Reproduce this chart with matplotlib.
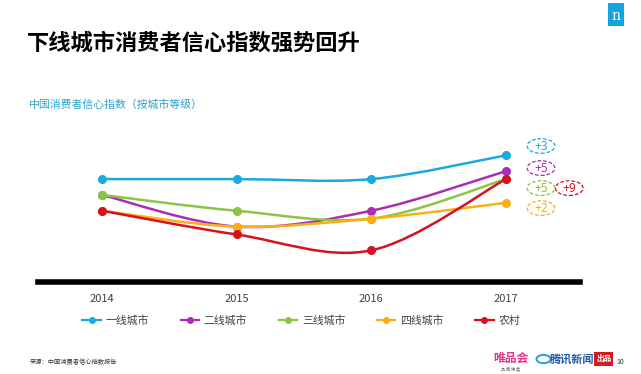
import matplotlib
matplotlib.use("Agg")
import matplotlib.pyplot as plt
from matplotlib.path import Path
from matplotlib.patches import PathPatch, Rectangle, Circle, Ellipse

plt.rcParams['font.family'] = ['Noto Sans CJK SC', 'DejaVu Sans']

years = [2014, 2015, 2016, 2017]
series_names = ["一线城市", "二线城市", "三线城市", "四线城市", "农村"]
tier1 = [110, 110, 110, 113]
tier2 = [108, 104, 106, 111]
tier3 = [108, 106, 105, 110]
tier4 = [106, 104, 105, 107]
rural = [106, 103, 101, 110]
colors = ["#1BA9E1", "#AA2DB4", "#8DC444", "#FBAF17", "#D7111F"]

# where the "+n" bubbles sit (x, y in data units)
bubble_pos = [(2017.26, 114.18), (2017.26, 111.39), (2017.26, 108.86),
              (2017.26, 106.33), (2017.47, 108.86)]


def smooth_path(xs, ys):
    # catmull-rom style bezier through the points, like office "smoothed line"
    pts = list(zip(xs, ys))
    verts = [pts[0]]
    codes = [Path.MOVETO]
    n = len(pts)
    for i in range(n - 1):
        p0 = pts[i - 1] if i > 0 else pts[i]
        p1 = pts[i]
        p2 = pts[i + 1]
        p3 = pts[i + 2] if i + 2 < n else pts[i + 1]
        c1 = (p1[0] + (p2[0] - p0[0]) / 6, p1[1] + (p2[1] - p0[1]) / 6)
        c2 = (p2[0] - (p3[0] - p1[0]) / 6, p2[1] - (p3[1] - p1[1]) / 6)
        verts += [c1, c2, p2]
        codes += [Path.CURVE4] * 3
    return Path(verts, codes)


fig = plt.figure(figsize=(6.41, 3.74), dpi=100)
ax = fig.add_axes([0.0593, 0.246, 0.8456, 0.381])

all_series = [tier1, tier2, tier3, tier4, rural]
for name, vals, c in zip(series_names, all_series, colors):
    ax.add_patch(PathPatch(smooth_path(years, vals), fc="none", ec=c, lw=1.8, zorder=2))
    ax.plot(years, vals, ls="none", marker="o", ms=5.5, color=c, zorder=3)
    # legend handle
    ax.plot([], [], color=c, lw=1.6, marker="o", ms=4, label=name)

for vals, c, (bx, by) in zip(all_series, colors, bubble_pos):
    d = vals[-1] - vals[-2]
    ax.add_patch(Ellipse((bx, by), 0.205, 1.85, fc="white", ec=c, ls=(0, (3, 1.5)),
                         lw=0.9, clip_on=False, zorder=4))
    ax.text(bx, by - 0.05, "+%d" % d, color=c, fontsize=8.5, weight="semibold",
            ha="center", va="center", family="Noto Sans", clip_on=False, zorder=5)

ax.set_xlim(2013.525, 2017.55)
ax.set_ylim(97, 115)
for s in ["top", "right", "left"]:
    ax.spines[s].set_visible(False)
ax.spines["bottom"].set_linewidth(4)
ax.spines["bottom"].set_color("black")
ax.set_yticks([])
ax.set_xticks(years)
ax.set_xticklabels([str(y) for y in years], fontsize=8, color="#404040")
ax.tick_params(axis="x", length=0, pad=9)

fig.legend(loc="center", bbox_to_anchor=(0.47, 0.142), ncol=5, frameon=False,
           fontsize=7.8, labelcolor="#404040", handlelength=1.7, handletextpad=0.45,
           columnspacing=2.9)

fig.text(0.042, 0.885, "下线城市消费者信心指数强势回升", fontsize=16, weight="bold",
         color="black", va="center")
fig.text(0.045, 0.72, "中国消费者信心指数（按城市等级）", fontsize=7.8,
         color="#2AA3CB", va="center")
fig.text(0.047, 0.032, "来源：中国消费者信心指数报告", fontsize=4.5,
         color="#333333", va="center")

# nielsen mark
fig.patches.append(Rectangle((0.949, 0.93), 0.025, 0.062, transform=fig.transFigure,
                             fc="#12A5E0", ec="none"))
fig.text(0.9615, 0.958, "n", color="white", fontsize=10, ha="center", va="center",
         family="DejaVu Serif")

# footer logos
fig.text(0.797, 0.042, "唯品会", fontsize=8.5, weight="bold", color="#E0348D",
         ha="center", va="center")
fig.text(0.797, 0.015, "品 牌 特 卖", fontsize=3, color="#666666", ha="center",
         va="center")
fig.patches.append(Circle((0.848, 0.04), 0.011, transform=fig.transFigure,
                          fc="none", ec="#2EA3DD", lw=1.5))
fig.text(0.893, 0.04, "腾讯新闻", fontsize=8, weight="bold", style="italic",
         color="#1C5AAE", ha="center", va="center")
fig.patches.append(Rectangle((0.927, 0.022), 0.029, 0.038, transform=fig.transFigure,
                             fc="#D7191F", ec="none"))
fig.text(0.9415, 0.041, "出品", fontsize=5.5, weight="bold", color="white",
         ha="center", va="center")
fig.text(0.962, 0.032, "10", fontsize=5, color="#333333", va="center")

fig.savefig("out.png", dpi=100, facecolor="white")
